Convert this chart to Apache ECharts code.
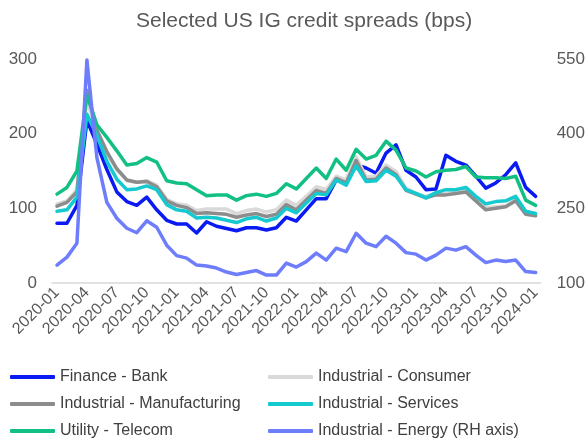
<!DOCTYPE html>
<html>
<head>
<meta charset="utf-8">
<script src="https://cdn.jsdelivr.net/npm/echarts@6/dist/echarts.min.js"></script>
<style>
  html, body { margin: 0; padding: 0; background: #ffffff; }
  #chart { width: 588px; height: 444px; }
</style>
</head>
<body>
<div id="chart"></div>
<script>
// Monthly observations, Jan 2020 – Jan 2024
const months = [
  '2020-01','2020-02','2020-03','2020-04','2020-05','2020-06','2020-07','2020-08','2020-09','2020-10','2020-11','2020-12',
  '2021-01','2021-02','2021-03','2021-04','2021-05','2021-06','2021-07','2021-08','2021-09','2021-10','2021-11','2021-12',
  '2022-01','2022-02','2022-03','2022-04','2022-05','2022-06','2022-07','2022-08','2022-09','2022-10','2022-11','2022-12',
  '2023-01','2023-02','2023-03','2023-04','2023-05','2023-06','2023-07','2023-08','2023-09','2023-10','2023-11','2023-12',
  '2024-01'
];

// Spreads in bps (left axis)
const financeBank = [80, 80, 104, 218, 186, 152, 122, 109, 104, 115, 98, 84, 79, 79, 67, 82, 76, 73, 70, 74, 74, 71, 74, 88, 83, 98, 113, 113, 138, 134, 158, 154, 147, 174, 185, 151, 142, 125, 126, 171, 163, 158, 143, 127, 134, 145, 161, 128, 116];
const industrialConsumer = [106, 110, 125, 245, 202, 172, 152, 137, 135, 137, 131, 112, 106, 104, 97, 99, 99, 99, 93, 97, 99, 95, 98, 111, 104, 116, 129, 125, 143, 138, 169, 142, 143, 158, 149, 127, 120, 116, 120, 120, 122, 124, 112, 101, 102, 103, 112, 93, 91];
const industrialManufacturing = [103, 108, 122, 258, 205, 176, 153, 138, 135, 136, 129, 110, 104, 101, 93, 94, 93, 92, 88, 91, 93, 89, 92, 105, 98, 111, 124, 120, 140, 134, 164, 138, 139, 154, 145, 124, 119, 114, 118, 118, 120, 122, 110, 98, 100, 102, 110, 92, 90];
const industrialServices = [96, 98, 115, 226, 198, 163, 139, 125, 126, 130, 125, 105, 98, 96, 87, 88, 87, 84, 81, 86, 88, 83, 87, 100, 94, 107, 120, 118, 138, 131, 157, 136, 137, 151, 143, 125, 120, 114, 121, 125, 125, 128, 116, 106, 109, 110, 116, 96, 93];
const utilityTelecom = [119, 128, 150, 252, 212, 195, 177, 158, 160, 168, 162, 137, 134, 133, 125, 117, 118, 118, 111, 117, 119, 116, 120, 133, 126, 140, 154, 140, 166, 151, 179, 166, 171, 190, 178, 154, 150, 142, 149, 151, 152, 156, 142, 141, 141, 140, 143, 111, 104];
// Energy sector spread in bps (right-hand axis)
const industrialEnergy = [136, 152, 180, 548, 352, 262, 230, 210, 201, 225, 212, 176, 155, 150, 136, 134, 130, 122, 117, 121, 125, 116, 116, 140, 132, 143, 160, 146, 170, 163, 200, 180, 173, 194, 180, 161, 158, 146, 156, 170, 166, 173, 156, 141, 146, 143, 146, 123, 121];

const FONT = '"Liberation Sans", Arial, sans-serif';
const LABEL_COLOR = '#595959';

const seriesDefs = [
  { name: 'Finance - Bank', data: financeBank, color: '#0a1af2', axis: 0, col: 0, row: 0 },
  { name: 'Industrial - Consumer', data: industrialConsumer, color: '#d9d9d9', axis: 0, col: 1, row: 0 },
  { name: 'Industrial - Manufacturing', data: industrialManufacturing, color: '#8c8c8c', axis: 0, col: 0, row: 1 },
  { name: 'Industrial - Services', data: industrialServices, color: '#14c9cf', axis: 0, col: 1, row: 1 },
  { name: 'Utility - Telecom', data: utilityTelecom, color: '#12c083', axis: 0, col: 0, row: 2 },
  { name: 'Industrial - Energy (RH axis)', data: industrialEnergy, color: '#6e7dfb', axis: 1, col: 1, row: 2 }
];

// Two-column legend, one entry per block
const legendCols = [10, 268];
const legendRows = [377, 404, 431];
const legends = seriesDefs.map(function (s) {
  return {
    data: [s.name],
    left: legendCols[s.col],
    top: legendRows[s.row] - 9,
    padding: 0,
    itemWidth: 45,
    itemHeight: 4,
    icon: 'roundRect',
    selectedMode: false,
    textStyle: { fontFamily: FONT, fontSize: 16, color: '#404040', lineHeight: 18 }
  };
});

const series = seriesDefs.map(function (s) {
  return {
    name: s.name,
    type: 'line',
    data: s.data,
    yAxisIndex: s.axis,
    showSymbol: false,
    symbol: 'none',
    smooth: false,
    lineStyle: { color: s.color, width: 3.5, join: 'round', cap: 'round' },
    itemStyle: { color: s.color },
    emphasis: { disabled: true },
    animation: false
  };
});

const chart = echarts.init(document.getElementById('chart'), null, { renderer: 'canvas' });

chart.setOption({
  backgroundColor: '#ffffff',
  animation: false,
  title: {
    text: 'Selected US IG credit spreads (bps)',
    left: 131,
    top: 6,
    textStyle: { fontFamily: FONT, fontSize: 21, fontWeight: 'normal', color: LABEL_COLOR }
  },
  legend: legends,
  grid: { left: 52, right: 47, top: 59, bottom: 161, containLabel: false },
  xAxis: {
    type: 'category',
    data: months,
    boundaryGap: true,
    axisLine: { show: true, lineStyle: { color: '#d9d9d9', width: 1.5 } },
    axisTick: { show: false },
    axisLabel: {
      interval: 2,
      rotate: 45,
      margin: 7,
      fontFamily: FONT,
      fontSize: 16,
      color: LABEL_COLOR
    },
    splitLine: { show: false }
  },
  yAxis: [
    {
      type: 'value', min: 0, max: 300, interval: 100,
      axisLine: { show: false }, axisTick: { show: false }, splitLine: { show: false },
      axisLabel: { margin: 15, fontFamily: FONT, fontSize: 17, color: LABEL_COLOR }
    },
    {
      type: 'value', min: 100, max: 550, interval: 150, position: 'right',
      axisLine: { show: false }, axisTick: { show: false }, splitLine: { show: false },
      axisLabel: { margin: 16, fontFamily: FONT, fontSize: 17, color: LABEL_COLOR }
    }
  ],
  series: series
});
</script>
</body>
</html>
